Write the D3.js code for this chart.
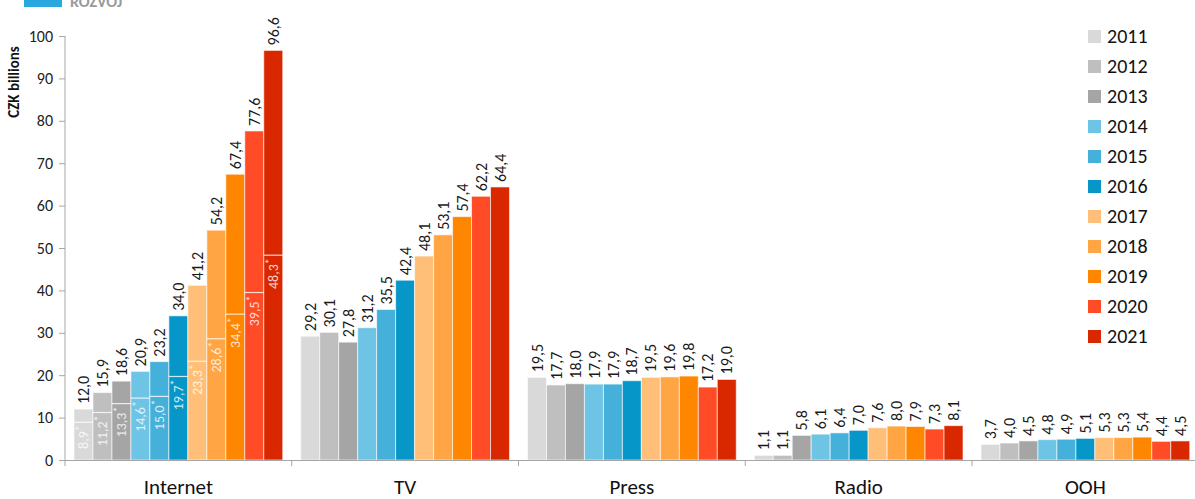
<!DOCTYPE html>
<html>
<head>
<meta charset="utf-8">
<script src="https://cdn.jsdelivr.net/npm/d3@7"></script>
<style>
  body { margin: 0; background: #fff; }
  text { font-family: Carlito, Lato, "Liberation Sans", sans-serif; }
</style>
</head>
<body>
<script>
// values in CZK billions
var categories = ["Internet", "TV", "Press", "Radio", "OOH"];
var years = ["2011", "2012", "2013", "2014", "2015", "2016", "2017", "2018", "2019", "2020", "2021"];
var internet = [12.0, 15.9, 18.6, 20.9, 23.2, 34.0, 41.2, 54.2, 67.4, 77.6, 96.6];
var internetStar = [8.9, 11.2, 13.3, 14.6, 15.0, 19.7, 23.3, 28.6, 34.4, 39.5, 48.3];
var tv = [29.2, 30.1, 27.8, 31.2, 35.5, 42.4, 48.1, 53.1, 57.4, 62.2, 64.4];
var press = [19.5, 17.7, 18.0, 17.9, 17.9, 18.7, 19.5, 19.6, 19.8, 17.2, 19.0];
var radio = [1.1, 1.1, 5.8, 6.1, 6.4, 7.0, 7.6, 8.0, 7.9, 7.3, 8.1];
var ooh = [3.7, 4.0, 4.5, 4.8, 4.9, 5.1, 5.3, 5.3, 5.4, 4.4, 4.5];
var yTicks = [0, 10, 20, 30, 40, 50, 60, 70, 80, 90, 100];
var colors = ["#d9d9d9", "#bfbfbf", "#a5a5a5", "#6ec4e4", "#45b0da", "#0796c8",
              "#ffbf78", "#ffa544", "#ff8600", "#ff4b26", "#d92800"];

var series = [internet, tv, press, radio, ooh];

var w = 1195, h = 499;
var bandW = 226.75;
var left = 65;

var svg = d3.select("body").append("svg").attr("width", w).attr("height", h);

var x0 = d3.scaleBand()
    .domain(categories)
    .range([left, left + bandW * categories.length])
    .paddingInner(0).paddingOuter(0);

var x1 = d3.scaleBand()
    .domain(years)
    .range([9, bandW - 9])
    .padding(0);

var y = d3.scaleLinear().domain([0, 100]).range([460, 36]);

var color = d3.scaleOrdinal().domain(years).range(colors);

var fmt = function(v) { return d3.format(".1f")(v).replace(".", ","); };

// logo piece cut off at the top
svg.append("rect").attr("x", 24).attr("y", 0).attr("width", 38).attr("height", 7).attr("fill", "#29a8e0");
svg.append("text").attr("x", 70).attr("y", 7).attr("font-size", 16).attr("font-weight", "bold")
  .attr("fill", "#9a9a9a").text("ROZVOJ");

// y axis
var yAxis = svg.append("g")
  .attr("transform", "translate(" + left + ",0)")
  .call(d3.axisLeft(y).tickValues(yTicks).tickSize(6).tickPadding(6));
yAxis.select(".domain").attr("d", "M0,36V466").attr("stroke", "#a6a6a6");
yAxis.selectAll(".tick line").attr("stroke", "#a6a6a6");
yAxis.selectAll(".tick text").attr("font-size", 16).attr("fill", "#222")
  .style("font-family", "Carlito, Lato, sans-serif");

svg.append("text")
  .attr("transform", "translate(19,82) rotate(-90)")
  .attr("text-anchor", "middle")
  .attr("font-size", 15).attr("font-weight", "bold").attr("fill", "#111")
  .text("CZK billions");

// bars
var groups = svg.selectAll(".cat")
  .data(categories)
  .enter().append("g")
  .attr("class", "cat")
  .attr("transform", function(d) { return "translate(" + x0(d) + ",0)"; });

groups.each(function(cat, ci) {
  var g = d3.select(this);
  var vals = series[ci];
  var rows = years.map(function(yr, i) { return { year: yr, value: vals[i], i: i }; });

  g.selectAll("rect")
    .data(rows)
    .enter().append("rect")
    .attr("x", function(d) { return x1(d.year); })
    .attr("width", x1.bandwidth())
    .attr("y", function(d) { return y(d.value); })
    .attr("height", function(d) { return y(0) - y(d.value); })
    .attr("fill", function(d) { return color(d.year); })
    .attr("stroke", "#fff").attr("stroke-opacity", 0.6).attr("stroke-width", 1);

  g.selectAll(".val")
    .data(rows)
    .enter().append("text")
    .attr("class", "val")
    .attr("transform", function(d) {
      return "translate(" + (x1(d.year) + x1.bandwidth() / 2) + "," + (y(d.value) - 5) + ") rotate(-90)";
    })
    .attr("dy", "0.35em")
    .attr("font-size", 16)
    .attr("fill", "#1a1a1a")
    .text(function(d) { return fmt(d.value); });

  if (cat === "Internet") {
    var inner = years.map(function(yr, i) { return { year: yr, value: internetStar[i] }; });
    g.selectAll(".split")
      .data(inner)
      .enter().append("line")
      .attr("class", "split")
      .attr("x1", function(d) { return x1(d.year); })
      .attr("x2", function(d) { return x1(d.year) + x1.bandwidth(); })
      .attr("y1", function(d) { return y(d.value); })
      .attr("y2", function(d) { return y(d.value); })
      .attr("stroke", "#fff").attr("stroke-opacity", 0.8).attr("stroke-width", 1.2);

    var st = g.selectAll(".star")
      .data(inner)
      .enter().append("text")
      .attr("class", "star")
      .attr("transform", function(d) {
        return "translate(" + (x1(d.year) + x1.bandwidth() / 2) + "," + (y(d.value) + 3) + ") rotate(-90)";
      })
      .attr("text-anchor", "end")
      .attr("dy", "0.35em")
      .attr("font-size", 14)
      .attr("fill", "#fff").attr("fill-opacity", 0.8);
    st.append("tspan").text(function(d) { return fmt(d.value); });
    st.append("tspan").attr("dy", -4).attr("font-size", 12).text("*");
  }
});

// x axis baseline and separators
svg.append("line")
  .attr("x1", left).attr("x2", w).attr("y1", 460.5).attr("y2", 460.5)
  .attr("stroke", "#a6a6a6");
svg.selectAll(".sep")
  .data(categories.slice(1))
  .enter().append("line")
  .attr("class", "sep")
  .attr("x1", function(d) { return x0(d); })
  .attr("x2", function(d) { return x0(d); })
  .attr("y1", 460).attr("y2", 466)
  .attr("stroke", "#a6a6a6");

svg.selectAll(".catlabel")
  .data(categories)
  .enter().append("text")
  .attr("class", "catlabel")
  .attr("x", function(d) { return x0(d) + bandW / 2; })
  .attr("y", 494)
  .attr("text-anchor", "middle")
  .attr("font-size", 21)
  .attr("fill", "#111")
  .text(function(d) { return d; });

// legend
var legend = svg.selectAll(".leg")
  .data(years)
  .enter().append("g")
  .attr("class", "leg")
  .attr("transform", function(d, i) { return "translate(1088," + (36 + i * 30) + ")"; });

legend.append("rect")
  .attr("x", 0).attr("y", -6).attr("width", 13).attr("height", 13)
  .attr("fill", function(d) { return color(d); });

legend.append("text")
  .attr("x", 19).attr("dy", "0.35em")
  .attr("font-size", 20)
  .attr("fill", "#111")
  .text(function(d) { return d; });
</script>
</body>
</html>
